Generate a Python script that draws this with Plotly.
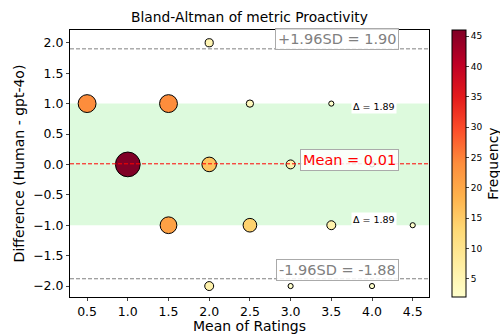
import plotly.graph_objects as go

# data
mean_ratings = [0.5, 1.5, 2.0, 2.5, 3.5, 1.0, 2.0, 3.0, 4.0, 1.5, 2.5, 3.5, 4.5, 2.0, 3.0, 4.0]
differences  = [1.0, 1.0, 2.0, 1.0, 1.0, 0.0, 0.0, 0.0, 0.0, -1.0, -1.0, -1.0, -1.0, -2.0, -2.0, -2.0]
frequency    = [24, 24, 5, 4, 2, 46, 16, 6, 2, 21, 14, 6, 2, 6, 2, 2]
mean_diff = 0.01
upper_loa = 1.90
lower_loa = -1.88
band_low, band_high = -1.0, 1.0
delta_label = "Δ = 1.89"

font = "DejaVu Sans, sans-serif"
fig = go.Figure()

fig.add_shape(type="rect", xref="paper", x0=0, x1=1, yref="y", y0=band_low, y1=band_high,
              fillcolor="rgba(144,238,144,0.3)", line_width=0, layer="below")
fig.add_hline(y=upper_loa, line=dict(color="gray", dash="4px,2px", width=1))
fig.add_hline(y=lower_loa, line=dict(color="gray", dash="4px,2px", width=1))
fig.add_hline(y=mean_diff, line=dict(color="red", dash="4px,2px", width=1))

fig.add_trace(go.Scatter(
    x=mean_ratings, y=differences, mode="markers",
    marker=dict(size=frequency, sizemode="area", sizeref=0.15, sizemin=2,
                color=frequency, colorscale="YlOrRd", cmin=2, cmax=46,
                line=dict(color="black", width=1), opacity=1,
                colorbar=dict(title=dict(text="Frequency", side="right", font=dict(size=14, family=font)),
                              thickness=14, len=1, lenmode="fraction", y=0.5, yanchor="middle",
                              x=1.064, xanchor="left", xpad=0, ypad=0,
                              tickvals=[5, 10, 15, 20, 25, 30, 35, 40, 45],
                              ticks="outside", ticklen=3, tickfont=dict(size=9, family=font),
                              outlinecolor="black", outlinewidth=1)),
    showlegend=False, hoverinfo="skip"))

ann_common = dict(xref="x", yref="y", showarrow=False, bordercolor="#aaaaaa", borderwidth=1,
                  bgcolor="rgba(255,255,255,0.85)", borderpad=2)
fig.add_annotation(x=4.33, y=2.06, xanchor="right", text=f"+1.96SD = {upper_loa:.2f}",
                   font=dict(size=14.5, color="gray", family=font), **ann_common)
fig.add_annotation(x=4.33, y=0.08, xanchor="right", text=f"Mean = {mean_diff:.2f}",
                   font=dict(size=14.5, color="red", family=font), **ann_common)
fig.add_annotation(x=4.33, y=-1.73, xanchor="right", text=f"-1.96SD = {lower_loa:.2f}",
                   font=dict(size=14.5, color="gray", family=font), **ann_common)
fig.add_annotation(x=4.03, y=0.96, text=delta_label, showarrow=False, bgcolor="white",
                   font=dict(size=9.5, color="black", family=font))
fig.add_annotation(x=4.03, y=-0.9, text=delta_label, showarrow=False, bgcolor="white",
                   font=dict(size=9.5, color="black", family=font))

fig.update_layout(
    width=500, height=334, plot_bgcolor="white", paper_bgcolor="white",
    margin=dict(l=70, r=71, t=30, b=37, autoexpand=False),
    font=dict(family=font, color="black"),
    title=dict(text="Bland-Altman of metric Proactivity", x=0.5, xref="paper", xanchor="center",
               y=1, yref="container", yanchor="top", pad=dict(t=12), font=dict(size=13.8)),
    xaxis=dict(range=[0.29, 4.7], tickvals=[0.5, 1.0, 1.5, 2.0, 2.5, 3.0, 3.5, 4.0, 4.5],
               ticktext=["0.5", "1.0", "1.5", "2.0", "2.5", "3.0", "3.5", "4.0", "4.5"],
               showgrid=False, zeroline=False, showline=True, linecolor="black", mirror=True,
               ticks="outside", ticklen=3, tickfont=dict(size=12.5),
               title=dict(text="Mean of Ratings", font=dict(size=14), standoff=0)),
    yaxis=dict(range=[-2.18, 2.21], tickvals=[-2, -1.5, -1, -0.5, 0, 0.5, 1, 1.5, 2],
               ticktext=["−2.0", "−1.5", "−1.0", "−0.5", "0.0", "0.5", "1.0", "1.5", "2.0"],
               showgrid=False, zeroline=False, showline=True, linecolor="black", mirror=True,
               ticks="outside", ticklen=3, tickfont=dict(size=12.5),
               title=dict(text="Difference (Human - gpt-4o)", font=dict(size=14), standoff=5)),
)

fig.write_html("out.html", config={"displayModeBar": False},
               post_script="document.body.style.margin='0';document.body.style.overflow='hidden';")
